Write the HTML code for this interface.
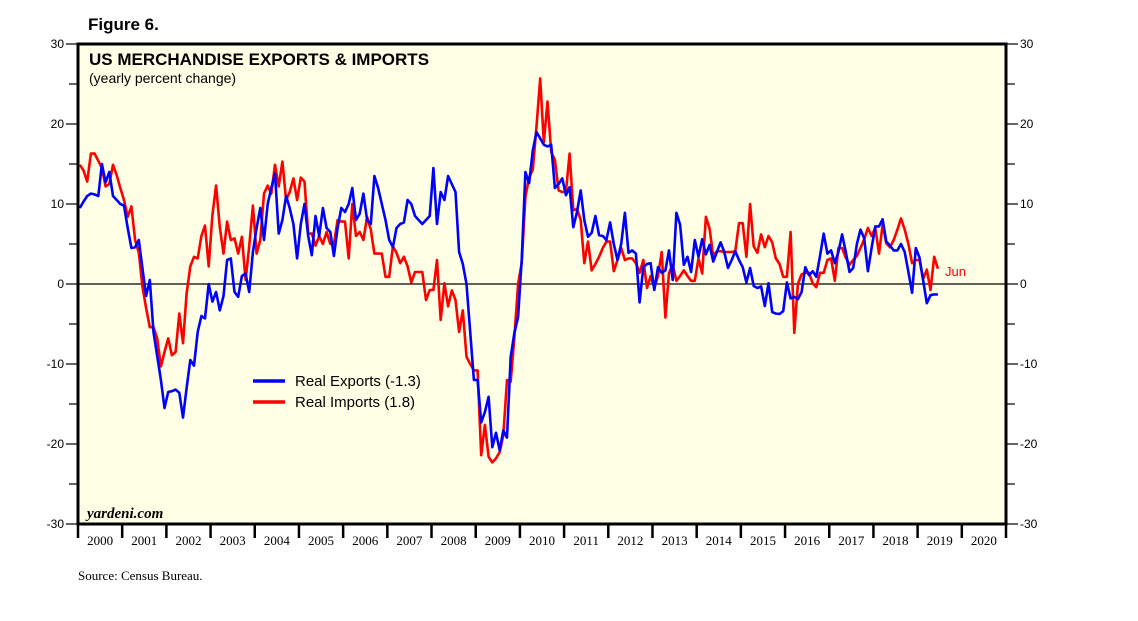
<!DOCTYPE html>
<html><head><meta charset="utf-8"><style>
body{margin:0;background:#fff;}
svg{display:block;}
</style></head><body>
<svg id="c" width="1138" height="621" xmlns="http://www.w3.org/2000/svg">
<rect x="78" y="44" width="928" height="480" fill="#FFFFE6"/>
<g id="grid"></g>
<line x1="78" y1="284" x2="1006" y2="284" stroke="#000" stroke-width="1.2"/>
<g id="series"></g>
<path d="M78 44 H1006 V524 H78 Z" fill="none" stroke="#000" stroke-width="3"/>
<g id="axes" font-family="Liberation Sans, sans-serif" font-size="12"></g>
<text x="88" y="30" font-family="Liberation Sans, sans-serif" font-size="17" font-weight="bold">Figure 6.</text>
<text x="89" y="65" font-family="Liberation Sans, sans-serif" font-size="17" font-weight="bold">US MERCHANDISE EXPORTS &amp; IMPORTS</text>
<text x="89" y="83" font-family="Liberation Sans, sans-serif" font-size="14">(yearly percent change)</text>
<text x="87" y="518" font-family="Liberation Serif, serif" font-size="15" font-style="italic" font-weight="bold">yardeni.com</text>
<text x="78" y="580" font-family="Liberation Serif, serif" font-size="13">Source: Census Bureau.</text>
<g font-family="Liberation Sans, sans-serif" font-size="15">
<line x1="253" y1="381" x2="285" y2="381" stroke="#0000FF" stroke-width="3.5"/>
<text x="295" y="386">Real Exports (-1.3)</text>
<line x1="253" y1="402" x2="285" y2="402" stroke="#FF0000" stroke-width="3.5"/>
<text x="295" y="407">Real Imports (1.8)</text>
</g>
<text x="945" y="276" font-family="Liberation Sans, sans-serif" font-size="13" fill="#FF0000">Jun</text>
</svg>
<script>
const years = [2000,2001,2002,2003,2004,2005,2006,2007,2008,2009,2010,2011,2012,2013,2014,2015,2016,2017,2018,2019,2020];
const yTicks = [30,20,10,0,-10,-20,-30];
const exportsData = [
9.5,10.3,11,11.3,11.2,11,15,12.7,14,11,10.5,10,
9.8,7,4.5,4.6,5.5,2,-1.5,0.5,-6,-9,-12,-15.5,
-13.5,-13.4,-13.2,-13.6,-16.7,-13,-9.5,-10.2,-6,-4,-4.3,0,
-2.2,-1,-3.3,-1.5,3,3.2,-1,-1.6,1,1.3,-1,4,
7,9.5,5.5,10,12,13.8,6.3,8,11,9.5,7.5,3.2,
7.5,10,6,3.6,8.5,6,9.5,7,6.5,3.5,7,9.5,
9,10,12,8,8.8,11.3,8,7.5,13.5,12,10,8,
5.5,4.6,7,7.5,7.7,10.5,10,8.5,8,7.5,8,8.5,
14.5,7.5,11.5,10.5,13.5,12.5,11.5,4,2.5,0,-6,-12,
-12,-17.3,-16,-14.1,-20.4,-18.6,-20.8,-18.3,-19.2,-9.1,-6.1,-4.1,
3,14,12.6,16.7,19,18.2,17.4,17.2,17.4,12,12.5,13.2,
11.1,12.1,7.1,9,11.7,8,5.9,6.4,8.5,6.1,6,5.5,
7.7,5,3,5,8.9,3.9,4.2,3.8,-2.3,2.1,2.5,2.6,
-0.75,2.1,1.4,1.7,4.2,0.5,8.9,7.4,2.4,3.4,1.5,5.5,
3.4,5.6,3.7,4.9,2.8,4,5.2,4,2,3,4.1,3,
2.1,0.2,2,-0.25,-0.5,-0.3,-2.75,0.1,-3.5,-3.7,-3.75,-3.4,
0.2,-1.8,-1.6,-1.9,-1,2.1,1.1,1.6,0.9,3.5,6.3,3.8,
4.2,2.6,4,6.2,4,1.5,2,5,6.8,5.7,1.6,4.5,
7.2,7.2,8.1,5.3,4.8,4.2,4.2,5,4,1.5,-1.1,4.5,
3.3,0.5,-2.4,-1.4,-1.3,-1.3];
const importsData = [
14.9,14.2,12.8,16.3,16.3,15.4,14.5,12.2,12.5,14.9,13.6,12,
10.5,8.4,9.7,5.5,3.9,-0.3,-3,-5.4,-5.4,-6.8,-10.3,-8.5,
-6.8,-8.9,-8.5,-3.7,-7.4,-1.2,2.2,3.4,3.2,6,7.3,2.2,
8.6,12.3,7.1,3.8,7.8,5.5,5.7,3.8,5.9,0.5,4.7,9.8,
3.8,5.5,11.3,12.3,11.3,14.9,12.2,15.3,10.5,11.5,13.2,10.5,
13.3,12.8,6.3,6.3,4.8,6,5,6.5,5,5,8,7.8,
7.8,3.2,10,6,6.5,5.5,8.4,6.8,3.8,3.8,3.8,0.9,
0.9,4.7,3.9,2.6,3.4,2.2,0.2,1.5,1.5,1.5,-2,-0.75,
-0.75,3,-4.5,0.1,-2.8,-0.8,-2,-6,-3.3,-9.1,-10,-10.8,
-10.8,-21.4,-17.6,-21.6,-22.3,-21.8,-21,-18.9,-12,-12.2,-6.6,0,
2.6,10.9,13.3,14.3,19.7,25.7,17.7,22.8,16.5,15.5,11.7,11.5,
11.5,16.3,9.2,9.4,8,2.6,5.3,1.7,2.5,3.4,4.5,5.3,
5.3,1.6,3,4.5,3,3.2,3.2,2.6,1.4,3,-0.5,1,
-0.5,1,4,-4.2,1.4,2.4,0.4,1,1.7,1,0.4,0.4,
3.2,1.3,8.4,6.9,3.5,4.1,4.1,4,4,4,4.1,7.6,
7.6,3.4,10,4.7,3.9,6.2,4.6,6,5.2,3.2,2.5,0.9,
0.9,6.5,-6.1,0,1.2,1.4,1.4,0.1,-0.4,1.4,1.4,3,
3.2,0.4,4.5,4.5,3.3,2.4,3,3.5,4.5,5.6,7,6,
7,3.8,7.4,5.1,4.6,5.5,6.8,8.2,6.8,5,2.6,3,
3,0.6,1.8,-0.75,3.4,1.9];

const X0=78, X1=1006, Y0=44, Y1=524, YMAX=30, YMIN=-30;
const yearW=(X1-X0)/years.length;
function xMonth(i){return X0+yearW*(i+0.5)/12;}
function yVal(v){return Y0+(YMAX-v)/(YMAX-YMIN)*(Y1-Y0);}
const NS="http://www.w3.org/2000/svg";
function mk(tag,attrs,parent){const e=document.createElementNS(NS,tag);for(const k in attrs)e.setAttribute(k,attrs[k]);parent.appendChild(e);return e;}
const axes=document.getElementById('axes');
for(let v=YMIN; v<=YMAX; v+=5){
  const y=yVal(v);
  const major=(v%10===0);
  const tl=mk('line',{x1:X0-(major?12:9),y1:y,x2:X0,y2:y,stroke:'#000','stroke-width':1.2},axes);
  
  
  const tr=mk('line',{x1:X1,y1:y,x2:X1+(major?12:9),y2:y,stroke:'#000','stroke-width':1.2},axes);
  
  
}
yTicks.forEach(v=>{
  const y=yVal(v);
  const l=mk('text',{x:X0-14,y:y+4,'text-anchor':'end'},axes);l.textContent=v;
  
  
  const r=mk('text',{x:X1+14,y:y+4,'text-anchor':'start'},axes);r.textContent=v;
  
  
});
years.forEach((yr,i)=>{
  const xs=X0+yearW*i;
  const t=mk('line',{x1:xs,y1:Y1,x2:xs,y2:Y1+14,stroke:'#000','stroke-width':2.5},axes);
  
  
  const lb=mk('text',{x:xs+yearW/2,y:Y1+21,'text-anchor':'middle','font-family':'Liberation Serif, serif','font-size':13},axes);
  lb.textContent=yr;
  
  
});
const lastT=mk('line',{x1:X1,y1:Y1,x2:X1,y2:Y1+14,stroke:'#000','stroke-width':2.5},axes);



const series=document.getElementById('series');
function drawLine(data,color,name){
  const d=data.map((v,i)=>(i?'L':'M')+xMonth(i).toFixed(1)+' '+yVal(v).toFixed(1)).join(' ');
  const p=mk('path',{d:d,fill:'none',stroke:color,'stroke-width':2.6,'stroke-linejoin':'round'},series);
  
  
}
drawLine(importsData,'#FF0000','imports-line');
drawLine(exportsData,'#0000FF','exports-line');
</script>
</body></html>
